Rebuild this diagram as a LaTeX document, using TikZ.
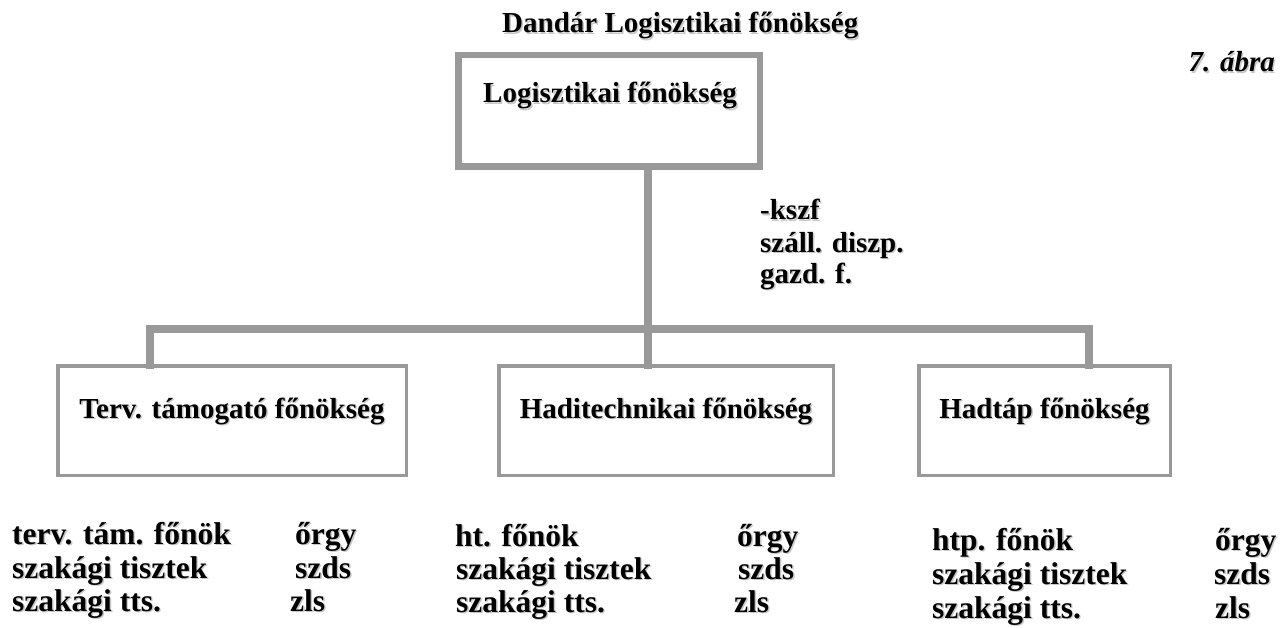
\documentclass[tikz,border=0pt]{standalone}
\usepackage{fontspec}
\setmainfont{Liberation Serif}
\definecolor{linegray}{RGB}{153,153,153}
\definecolor{shadegray}{RGB}{200,200,200}
% text with a soft grey drop shadow
\newcommand\shadowed[1]{\makebox[0pt][l]{\kern1.4pt\raisebox{-1.4pt}{\textcolor{shadegray}{#1}}}#1}
% left-aligned label at a baseline position
\newcommand\lbl[3]{\node[txt] (#1) at (#2) {\shadowed{#3}};}
% centred label at a baseline position
\newcommand\lblc[3]{\node[txt, anchor=base] (#1) at (#2) {\shadowed{#3}};}
% personnel list entry (slightly larger type)
\newcommand\lst[3]{\node[txt, font=\fontsize{31.5}{34}\selectfont\bfseries] (#1) at (#2) {\shadowed{#3}};}

\begin{document}
\begin{tikzpicture}[x=1pt, y=-1pt,
  txt/.style={anchor=base west, inner sep=0pt, font=\fontsize{29}{33}\selectfont\bfseries},
  bigbox/.style={draw=linegray, line width=6.5pt, minimum width=301.5pt, minimum height=111.5pt, inner sep=0pt},
  subbox/.style={draw=linegray, line width=3.5pt, minimum height=109.5pt, inner sep=0pt},
  link/.style={draw=linegray, line width=7.5pt, line join=miter}]

\useasboundingbox (0,0) rectangle (1281,628);
\fill[white] (0,0) rectangle (1281,628);

% boxes
\node[bigbox] (top) at (609,111) {};
\node[subbox, minimum width=348.5pt] (b1) at (232,420.5) {};
\node[subbox, minimum width=334.5pt] (b2) at (666,420.5) {};
\node[subbox, minimum width=251.5pt] (b3) at (1044.5,420.5) {};

% junction points of the connector tree
\coordinate (jm) at (648,329);
\coordinate (jl) at (150,329);
\coordinate (jr) at (1089,329);

\draw[link, shorten >=-5pt] (jm |- top.south) -- (jm |- b2.north);
\draw[link, shorten <=-5pt, shorten >=-5pt] (jl |- b1.north) -- (jl) -- (jr) -- (jr |- b3.north);

% headings
\lbl{title}{502,33}{Dandár Logisztikai főnökség}
\node[txt, anchor=base east, font=\fontsize{29}{33}\selectfont\bfseries\itshape] (fig) at (1275,72) {\shadowed{7. ábra}};
\lbl{toplbl}{483,103}{Logisztikai főnökség}

% staff under the chief
\lbl{n1}{760,220}{-kszf}
\lbl{n2}{760,252}{száll. diszp.}
\lbl{n3}{760,283}{gazd. f.}

% branch titles
\lblc{b1lbl}{232,418}{Terv. támogató főnökség}
\lblc{b2lbl}{666,418}{Haditechnikai főnökség}
\lblc{b3lbl}{1044.5,418}{Hadtáp főnökség}

% personnel lists
\lst{a1}{12,544}{terv. tám. főnök}
\lst{a2}{12,578}{szakági tisztek}
\lst{a3}{12,611}{szakági tts.}
\lst{ar1}{295,544}{őrgy}
\lst{ar2}{295,578}{szds}
\lst{ar3}{290,611}{zls}

\lst{c1}{455,546}{ht. főnök}
\lst{c2}{456,579}{szakági tisztek}
\lst{c3}{456,612}{szakági tts.}
\lst{cr1}{737,546}{őrgy}
\lst{cr2}{738,579}{szds}
\lst{cr3}{734,612}{zls}

\lst{d1}{932,550}{htp. főnök}
\lst{d2}{932,584}{szakági tisztek}
\lst{d3}{932,618}{szakági tts.}
\lst{dr1}{1215,550}{őrgy}
\lst{dr2}{1214,584}{szds}
\lst{dr3}{1215,618}{zls}
\end{tikzpicture}
\end{document}
